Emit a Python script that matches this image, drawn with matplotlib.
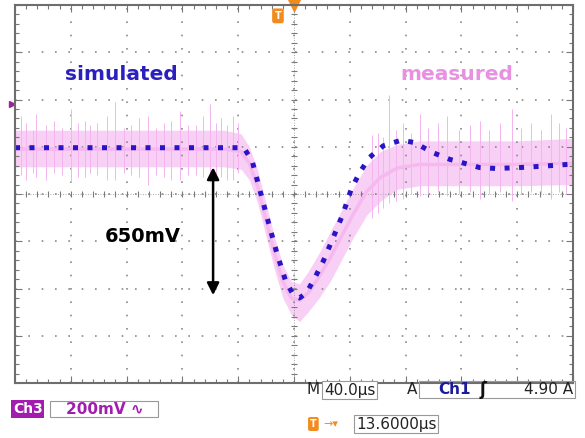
import matplotlib
matplotlib.use("Agg")
import matplotlib.pyplot as plt
import numpy as np

# simulated trace (time in us, voltage in mV, 40 us/div, 200 mV/div)
sim_t = [-200, -36, -30, -24, -18, -12, -6, 0, 4, 9, 15, 21, 28, 35, 41, 47, 54,
         64, 77, 86, 100, 112, 121, 133, 145, 162, 179, 198]
sim_v = [196, 196, 140, 6, -128, -256, -368, -432, -440, -418, -354, -284, -186,
         -86, 20, 90, 154, 204, 228, 218, 174, 146, 132, 112, 108, 112, 118, 126]

# measured trace: centre of the noisy band and its edges
meas_t = [-200, -150, -100, -50, -38, -32, -26, -20, -14, -8, -2, 4, 10, 18, 26,
          34, 42, 52, 62, 74, 90, 120, 160, 200]
meas_mid = [190, 190, 190, 190, 180, 130, 30, -110, -250, -370, -440, -450, -420,
            -350, -270, -180, -90, 10, 70, 110, 125, 125, 125, 130]
meas_hi = [270, 270, 270, 270, 255, 200, 100, -40, -180, -300, -370, -380, -330,
           -250, -160, -70, 20, 120, 180, 210, 225, 225, 225, 235]
meas_lo = [115, 115, 115, 115, 105, 60, -40, -180, -320, -440, -510, -540, -500,
           -440, -370, -280, -190, -90, -30, 20, 35, 35, 35, 40]

# noise spikes on the measured trace
spike_t = [-196, -192, -187, -185, -178, -172, -166, -160, -155, -150, -146,
           -141, -134, -128, -122, -117, -111, -105, -99, -93, -88, -82, -76,
           -70, -65, -60, -56, -52, -48, -44, -40, 56, 60, 64, 68, 73, 78, 84,
           90, 96, 103, 110, 118, 126, 133, 140, 148, 156, 163, 170, 177, 184,
           190, 195]
spike_top = [330, 300, 270, 340, 290, 310, 280, 360, 300, 310, 290, 300, 330,
             390, 280, 290, 320, 330, 280, 300, 310, 350, 290, 290, 330, 380,
             300, 320, 290, 330, 300, 250, 260, 240, 420, 270, 300, 260, 340,
             280, 300, 330, 270, 290, 310, 270, 300, 360, 280, 300, 270, 340,
             300, 280]
spike_bot = [80, 60, 90, 70, 60, 90, 80, 50, 70, 70, 90, 80, 60, 60, 90, 80,
             70, 40, 80, 70, 60, 60, 80, 80, 70, 50, 80, 70, 60, 60, 90, -100,
             -80, -60, -40, -30, -20, 0, -10, 0, 10, -10, 0, 10, -20, 0, 10, -30,
             0, 10, 0, -20, 10, 0]

W, H = 585, 438
fig = plt.figure(figsize=(W / 100, H / 100), dpi=100)
ax = fig.add_axes([15 / W, 1 - 383 / H, 558 / W, 378 / H])
ax.set_xlim(-200, 200)
ax.set_ylim(-800, 800)

# scope graticule
ax.set_xticks(np.arange(-200, 201, 40))
ax.set_yticks(np.arange(-800, 801, 200))
ax.set_xticks(np.arange(-200, 201, 8), minor=True)
ax.set_yticks(np.arange(-800, 801, 40), minor=True)
ax.tick_params(which="both", direction="in", top=True, right=True,
               labelbottom=False, labelleft=False, color="#777777")
ax.tick_params(which="major", length=5, width=0.8)
ax.tick_params(which="minor", length=3, width=0.8)
ax.grid(which="major", color="#8a8a8a", linestyle=(0, (1, 7)), linewidth=1.2)
for s in ax.spines.values():
    s.set_color("#6e6e6e")
    s.set_linewidth(1.5)
ax.axhline(0, color="#8a8a8a", lw=0.6, linestyle=(0, (1, 2)))
ax.axvline(0, color="#8a8a8a", lw=0.6, linestyle=(0, (1, 2)))
ticks_x = np.arange(-200, 201, 8)
ticks_y = np.arange(-800, 801, 40)
ax.plot(ticks_x, np.zeros_like(ticks_x), ls="none", marker="|", ms=5,
        color="#7a7a7a", mew=0.8)
ax.plot(np.zeros_like(ticks_y), ticks_y, ls="none", marker="_", ms=5,
        color="#7a7a7a", mew=0.8)

# measured (pink, noisy)
ax.fill_between(meas_t, meas_lo, meas_hi, color="#f9d0f5", lw=0)
ax.vlines(spike_t, spike_bot, spike_top, color="#f4b4ee", lw=0.7)
ax.plot(meas_t, meas_mid, color="#f5b8ef", lw=2.5)

# simulated (blue dotted)
ax.plot(sim_t, sim_v, color="#2a14c8", lw=3.6, linestyle=(0, (1, 1.9)),
        dash_capstyle="butt", solid_joinstyle="round")

# labels
ax.text(-164, 505, "simulated", color="#2b1fc0", fontsize=14.5, fontweight="bold",
        va="center")
ax.text(76, 505, "measured", color="#e891e2", fontsize=14.5, fontweight="bold",
        va="center")
ax.text(-136, -178, "650mV", color="black", fontsize=14, fontweight="bold",
        va="center")
ax.annotate("", xy=(-58, -440), xytext=(-58, 125),
            arrowprops=dict(arrowstyle="<|-|>", color="black", lw=1.8,
                            mutation_scale=18))

# trigger markers
ax.plot([0], [800], marker="v", ms=9, color="#f28a1c", clip_on=False)
ax.text(-11.5, 754, "T", color="white", fontsize=7, fontweight="bold",
        ha="center", va="center",
        bbox=dict(boxstyle="round,pad=0.25", fc="#f28a1c", ec="none"))
ax.plot([-202], [380], marker=">", ms=5, color="#a020a0", clip_on=False)

# status bar under the screen
def ftext(x, y, s, **kw):
    fig.text(x / W, 1 - y / H, s, va="center", **kw)

ftext(306, 390, "M", fontsize=11, color="#222222")
ftext(324, 390, "40.0µs", fontsize=11, color="#222222",
      bbox=dict(boxstyle="square,pad=0.12", fc="white", ec="#999999", lw=0.8))
ftext(407, 390, "A", fontsize=11, color="#222222")
ftext(438, 390, "Ch1", fontsize=11, color="#1a1a9a", fontweight="bold")
ftext(480, 390, "ʃ", fontsize=12, color="#111111", fontweight="bold")
ftext(524, 390, "4.90 A", fontsize=11, color="#222222")
ftext(13, 409, "Ch3", fontsize=10, color="white", fontweight="bold",
      bbox=dict(boxstyle="square,pad=0.12", fc="#a21caf", ec="none"))
ftext(66, 409, "200mV ∿", fontsize=11, color="#a21caf", fontweight="bold")
ftext(310, 424, "T", fontsize=7, color="white", fontweight="bold",
      bbox=dict(boxstyle="round,pad=0.2", fc="#f28a1c", ec="none"))
ftext(323, 424, "→▾", fontsize=8, color="#f28a1c")
ftext(356, 424, "13.6000µs", fontsize=11, color="#222222",
      bbox=dict(boxstyle="square,pad=0.12", fc="white", ec="#999999", lw=0.8))
fig.patches.append(plt.Rectangle((50 / W, 1 - 417 / H), 108 / W, 16 / H,
                                 transform=fig.transFigure, fill=False,
                                 ec="#999999", lw=0.8))
fig.patches.append(plt.Rectangle((419 / W, 1 - 398 / H), 156 / W, 17 / H,
                                 transform=fig.transFigure, fill=False,
                                 ec="#999999", lw=0.8))

fig.savefig("out.png", dpi=100)
